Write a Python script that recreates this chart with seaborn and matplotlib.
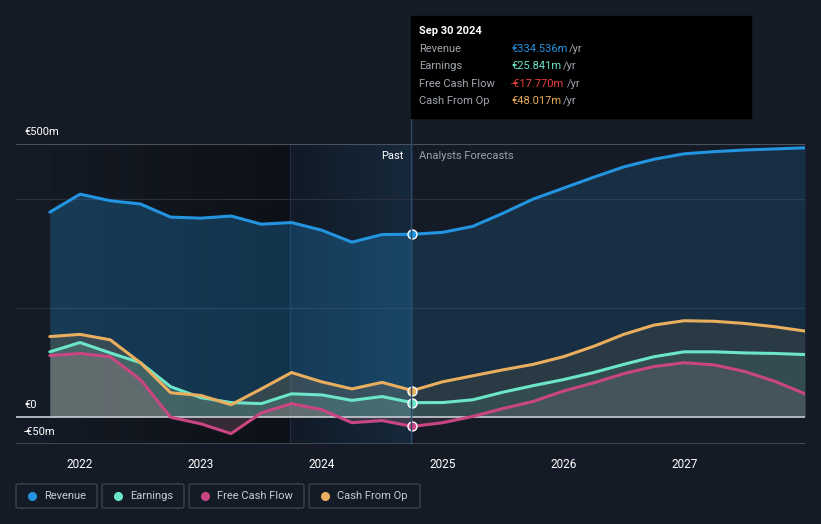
import numpy as np
import pandas as pd
import seaborn as sns
import matplotlib.pyplot as plt
from matplotlib.colors import LinearSegmentedColormap
from matplotlib.patches import Rectangle, FancyBboxPatch

# quarterly history (Sep 2021 - Sep 2024) and analyst forecasts, in € millions
past_t = [2021.75, 2022.0, 2022.25, 2022.5, 2022.75, 2023.0, 2023.25, 2023.5,
          2023.75, 2024.0, 2024.25, 2024.5, 2024.75]
past_revenue = [375, 408, 396, 390, 366, 364, 368, 353, 356, 342, 320, 334, 334.5]
past_earnings = [119, 136, 117, 99, 55, 35, 26, 24, 42, 40, 30, 37, 25.8]
past_fcf = [112, 116, 110, 68, -1, -13, -31, 7, 24, 13, -11, -7, -17.8]
past_cfo = [147, 151, 141, 99, 44, 39, 22, 51, 81, 64, 51, 63, 48.0]

fc_t = [2024.75, 2025.0, 2025.25, 2025.5, 2025.75, 2026.0, 2026.25, 2026.5,
        2026.75, 2027.0, 2027.25, 2027.5, 2027.75, 2028.0]
fc_revenue = [334.5, 338, 349, 373, 399, 419, 439, 458, 472, 482, 486, 489, 491, 493]
fc_earnings = [25.8, 26, 31, 45, 57, 68, 81, 96, 110, 119, 119, 117, 116, 114]
fc_fcf = [-17.8, -11, 0.5, 15, 28, 47, 62, 79, 92, 99, 95, 83, 65, 42]
fc_cfo = [48.0, 64, 75, 86, 96, 110, 129, 151, 168, 176, 175, 171, 165, 157]

series = ["Revenue", "Earnings", "Free Cash Flow", "Cash From Op"]
colors = {"Revenue": "#2394df", "Earnings": "#6ce5c9",
          "Free Cash Flow": "#c94683", "Cash From Op": "#e9ae5e"}
tip_values = ["€334.536m", "€25.841m", "-€17.770m", "€48.017m"]
tip_colors = ["#2394df", "#6ce5c9", "#f0413f", "#e9ae5e"]
years = [2022, 2023, 2024, 2025, 2026, 2027]

rows = []
for name, p, f in zip(series, [past_revenue, past_earnings, past_fcf, past_cfo],
                      [fc_revenue, fc_earnings, fc_fcf, fc_cfo]):
    for t, v in zip(past_t, p):
        rows.append({"t": t, "value": v, "series": name, "part": "past"})
    for t, v in zip(fc_t[1:], f[1:]):
        rows.append({"t": t, "value": v, "series": name, "part": "fc"})
df = pd.DataFrame(rows)

bg = "#151b26"
sns.set_theme(style="dark", rc={"axes.facecolor": bg, "figure.facecolor": bg})
plt.rcParams["font.family"] = ["Roboto", "DejaVu Sans"]

fig = plt.figure(figsize=(8.21, 5.24), dpi=100)
W, H = 821, 524
ax = fig.add_axes([16 / W, 1 - 444 / H, (805 - 16) / W, (444 - 144) / H])
ax.set_facecolor(bg)
ax.set_xlim(2021.47, 2028.0)
ax.set_ylim(-50, 500)

# past shading: dark gradient then highlighted last year
grad = np.linspace(0, 1, 200).reshape(1, -1)
ax.imshow(grad, extent=[2021.75, 2023.74, -50, 500], aspect="auto",
          cmap=LinearSegmentedColormap.from_list("d", ["#141a24", "#0d1117"]), zorder=0)
ax.imshow(grad, extent=[2023.74, 2024.75, -50, 500], aspect="auto",
          cmap=LinearSegmentedColormap.from_list("b", ["#111a26", "#16293c"]), zorder=0)
ax.axvline(2023.74, color="#1c2e42", lw=0.8, zorder=1)

for y in [200, 400]:
    ax.axhline(y, color="#2a313d", lw=0.8, zorder=1)
ax.axhline(500, color="#4a515c", lw=0.8, zorder=1)
ax.axhline(-50, color="#4a515c", lw=1.2, zorder=1)

fill_alpha = {"Revenue": 0.27, "Earnings": 0.18, "Free Cash Flow": 0.22, "Cash From Op": 0.16}
for name in series:
    for part, a in [("past", 1.0), ("fc", 0.6)]:
        d = df[(df.series == name) & ((df.part == part) | (df.t == 2024.75))].sort_values("t")
        c = colors[name]
        if name == "Free Cash Flow":
            c = "#c08098"
        ax.fill_between(d.t, d.value, 0, color=c, alpha=fill_alpha[name] * a, lw=0, zorder=2)

sns.lineplot(data=df.sort_values("t"), x="t", y="value", hue="series", palette=colors,
             hue_order=series, lw=2.2, legend=False, ax=ax, zorder=4, estimator=None,
             sort=True)
ax.axhline(0, color="#c8ccd2", lw=1.2, zorder=3)

for name, v in zip(series, [past_revenue[-1], past_earnings[-1], past_fcf[-1], past_cfo[-1]]):
    ax.scatter([2024.75], [v], s=42, color=colors[name], edgecolor="white", lw=1.0, zorder=6)

ax.set_xticks(years)
ax.set_xticklabels([str(y) for y in years], color="white", fontsize=8.5)
ax.tick_params(axis="x", length=4, color="#4a515c", pad=6)
ax.set_yticks([])
ax.set_xlabel("")
ax.set_ylabel("")
for s in ax.spines.values():
    s.set_visible(False)

# value labels on the left
fig.text(24 / W, 1 - 132 / H, "€500m", color="white", fontsize=8, va="center")
fig.text(24 / W, 1 - 405 / H, "€0", color="white", fontsize=8, va="center")
fig.text(24 / W, 1 - 432 / H, "-€50m", color="white", fontsize=8, va="center")
fig.text(403 / W, 1 - 156 / H, "Past", color="white", fontsize=8, ha="right", va="center")
fig.text(419 / W, 1 - 156 / H, "Analysts Forecasts", color="#9aa0a8", fontsize=8, va="center")

# tooltip
fig.add_artist(plt.Line2D([411 / W, 411 / W], [1 - 444 / H, 1 - 118 / H], color="#2c4a66", lw=1))
fig.patches.append(Rectangle((411 / W, 1 - 118 / H), 340 / W, 102 / H,
                             transform=fig.transFigure, color="black", zorder=5))
fig.text(419 / W, 1 - 31 / H, "Sep 30 2024", color="white", fontsize=8, fontweight="bold",
         va="center", zorder=6)
labels_y = [49, 66, 84, 101]
yr_x = [569, 563, 567, 563]
for i, (lab, val, vc) in enumerate(zip(series, tip_values, tip_colors)):
    y = labels_y[i]
    fig.add_artist(plt.Line2D([419 / W, 743 / W], [1 - (y - 9) / H] * 2, color="#3a3f47", lw=0.8))
    fig.text(419 / W, 1 - y / H, lab, color="#a0a5ad", fontsize=8, va="center", zorder=6)
    fig.text(511 / W, 1 - y / H, val, color=vc, fontsize=8, va="center", zorder=6)
    fig.text(yr_x[i] / W, 1 - y / H, "/yr", color="#a0a5ad", fontsize=8, va="center", zorder=6)
fig.add_artist(plt.Line2D([419 / W, 743 / W], [1 - 110 / H] * 2, color="#3a3f47", lw=0.8))

# legend boxes
boxes = [(16, 97), (102, 184), (189, 304), (309, 420)]
for (x0, x1), name in zip(boxes, series):
    fig.patches.append(FancyBboxPatch((x0 / W, 1 - 508 / H), (x1 - x0) / W, 24 / H,
                                      boxstyle="round,pad=0,rounding_size=0.003",
                                      transform=fig.transFigure, facecolor=bg,
                                      edgecolor="#3d434d", lw=1))
    fig.add_artist(plt.Line2D([(x0 + 16) / W], [1 - 496 / H], marker="o", ms=5.5,
                              color=colors[name], lw=0))
    fig.text((x0 + 28) / W, 1 - 496 / H, name, color="#c8ccd2", fontsize=8, va="center")

fig.savefig("out.png", dpi=100, facecolor=bg)
